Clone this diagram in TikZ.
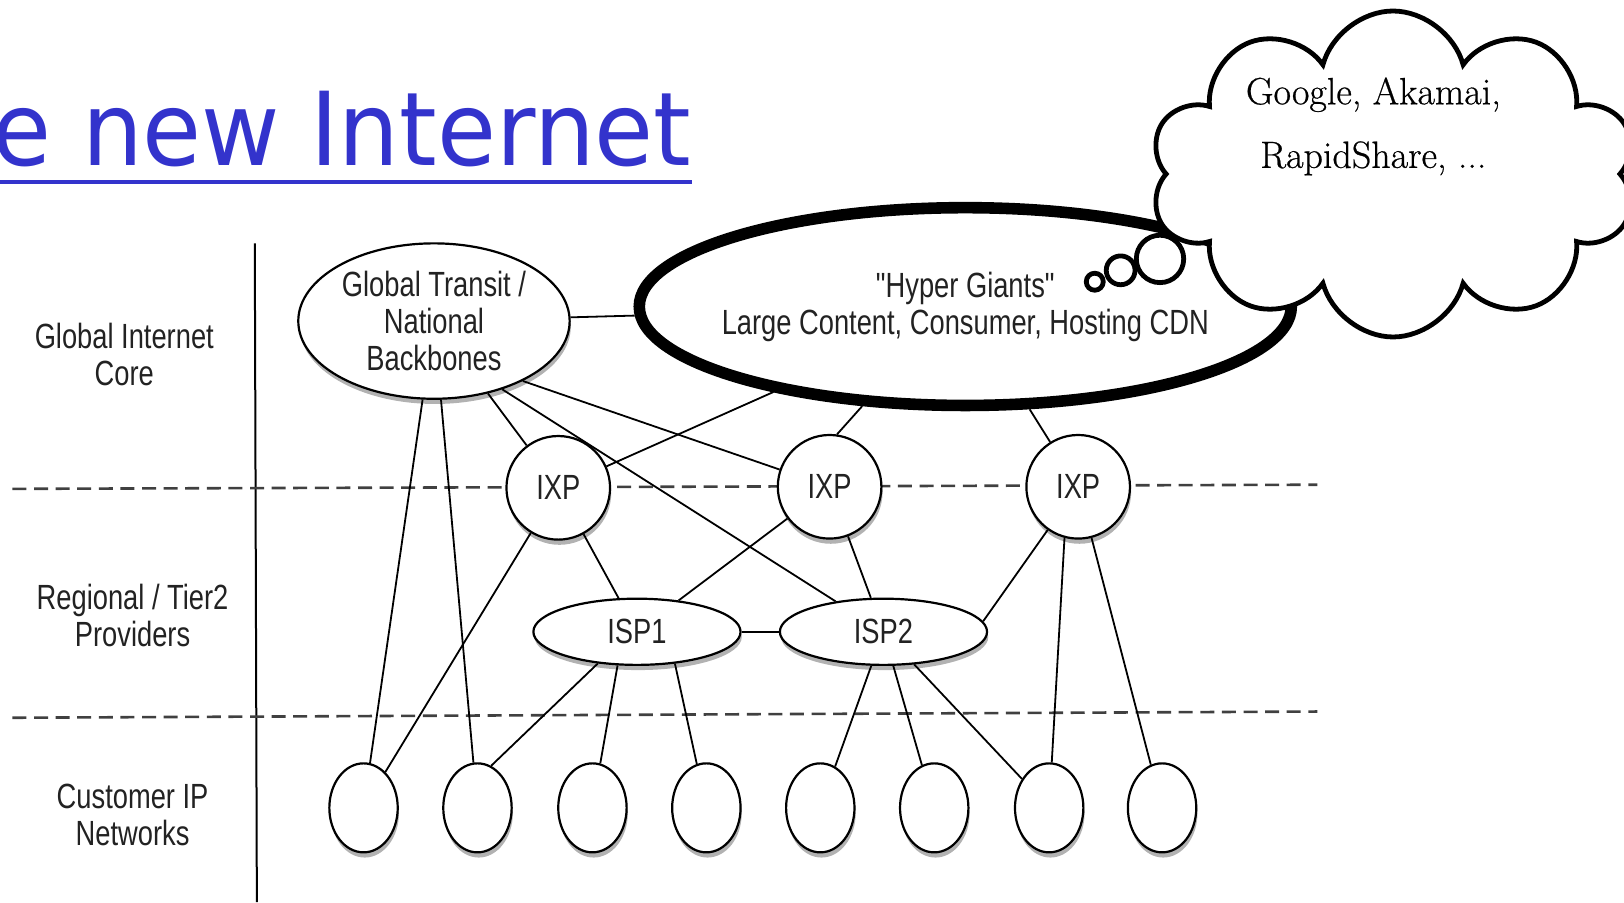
\documentclass[tikz,border=0pt]{standalone}
\usepackage{fontspec}
\usepackage{tikz}
\usetikzlibrary{shapes.geometric,shapes.symbols,shadows}
\newfontfamily\lblfont[FakeStretch=0.78]{Liberation Sans}
\newfontfamily\ttlfont[FakeStretch=0.94]{DejaVu Sans}
\newfontfamily\cloudfont[FakeBold=0.6]{Latin Modern Roman}
\definecolor{TitleBlue}{RGB}{51,51,204}
\definecolor{LabelGray}{RGB}{34,34,34}
\tikzset{
  lbl/.style={font=\lblfont\fontsize{17.5}{18.6}\selectfont, text=LabelGray, align=center},
  netnode/.style={draw, fill=white, line width=1.1pt, inner sep=0pt, lbl,
    drop shadow={shadow xshift=0.6pt, shadow yshift=-2.6pt, opacity=0.3, fill=black}},
  bignode/.style={netnode, ellipse, minimum width=135.7pt, minimum height=77.7pt},
  ixpnode/.style={netnode, circle, minimum size=51.8pt},
  ispnode/.style={netnode, ellipse, minimum width=103.6pt, minimum height=33.1pt},
  custnode/.style={netnode, ellipse, minimum width=34.2pt, minimum height=44.5pt},
  giantnode/.style={draw, fill=white, line width=5.8pt, ellipse, inner xsep=-6.5pt, inner ysep=0pt,
    minimum width=325.2pt, minimum height=98.9pt, lbl},
  link/.style={line width=0.9pt},
  tierline/.style={dash pattern=on 7pt off 3.8pt, line width=1.3pt, black!75},
  bubble/.style={draw, circle, line width=2.4pt, inner sep=0pt}
}
\begin{document}
\begin{tikzpicture}[x=0.5179pt,y=-0.5179pt]
\useasboundingbox (0,0) rectangle (1568,871);
\node[font=\ttlfont\fontsize{51}{60}\selectfont, text=TitleBlue, inner sep=0pt, anchor=base east] (title) at (668,160) {e new Internet};
\draw[TitleBlue, line width=2.1pt] ([yshift=-8.3pt]title.base west) -- ([yshift=-8.3pt]title.base east);

\draw[line width=1pt] (246,235) -- (248,871);
\draw[tierline] (12,472) -- (1272,468);
\draw[tierline] (12,693) -- (1272,687);

\node[lbl] (core) at (120,342) {Global Internet\\Core};
\node[lbl] (regional) at (128,594) {Regional / Tier2\\Providers};
\node[lbl] (customer) at (128,787) {Customer IP\\Networks};

\node[bignode] (transit) at (419,310) {Global Transit /\\National\\Backbones};
\node[giantnode] (giants) at (932,296) {"Hyper Giants"\\Large Content, Consumer, Hosting CDN};
\node[ixpnode] (ixpA) at (539,471) {IXP};
\node[ixpnode] (ixpB) at (801,470) {IXP};
\node[ixpnode] (ixpC) at (1041,470) {IXP};
\node[ispnode] (ispA) at (615,610) {ISP1};
\node[ispnode] (ispB) at (853,610) {ISP2};
\node[custnode] (custA) at (351,780) {};
\node[custnode] (custB) at (461,780) {};
\node[custnode] (custC) at (572,780) {};
\node[custnode] (custD) at (682,780) {};
\node[custnode] (custE) at (792,780) {};
\node[custnode] (custF) at (902,780) {};
\node[custnode] (custG) at (1013,780) {};
\node[custnode] (custH) at (1122,780) {};

\draw[link] (transit) -- (giants);
\draw[link] (transit) -- (ixpA);
\draw[link] (transit.-34) -- (ixpB);
\draw[link] (transit.-45) -- (ispB);
\draw[link] (transit) -- (custA);
\draw[link] (transit) -- (custB);
\draw[link] (giants) -- (ixpA);
\draw[link] (giants.224) -- (ixpB.82);
\draw[link] (giants) -- (ixpC);
\draw[link] (ixpA) -- (ispA);
\draw[link] (ixpA) -- (custA);
\draw[link] (ixpB) -- (ispA);
\draw[link] (ixpB) -- (ispB);
\draw[link] (ispA) -- (ispB);
\draw[link] (ispB.6) -- (ixpC);
\draw[link] (ixpC.-105) -- (custG);
\draw[link] (ixpC) -- (custH);
\draw[link] (ispA.-141) -- (custB.72);
\draw[link] (ispA.-120) -- (custC);
\draw[link] (ispA.-40) -- (custD);
\draw[link] (ispB) -- (custE);
\draw[link] (ispB) -- (custF);
\draw[link] (ispB) -- (custG);

\node[draw, cloud, cloud puffs=10, cloud ignores aspect, minimum width=243pt, minimum height=163pt, line width=2.4pt, fill=white, inner sep=0pt] (thought) at (1345,168) {};
\node[bubble, minimum size=8.5pt] (bubA) at (1057,272) {};
\node[bubble, minimum size=14.4pt] (bubB) at (1082,261) {};
\node[bubble, minimum size=23.7pt] (bubC) at (1120,250) {};
\node[font=\cloudfont\fontsize{19}{31.8}\selectfont, align=center] (players) at (1326,122) {Google, Akamai,\\RapidShare, ...};
\end{tikzpicture}
\end{document}
